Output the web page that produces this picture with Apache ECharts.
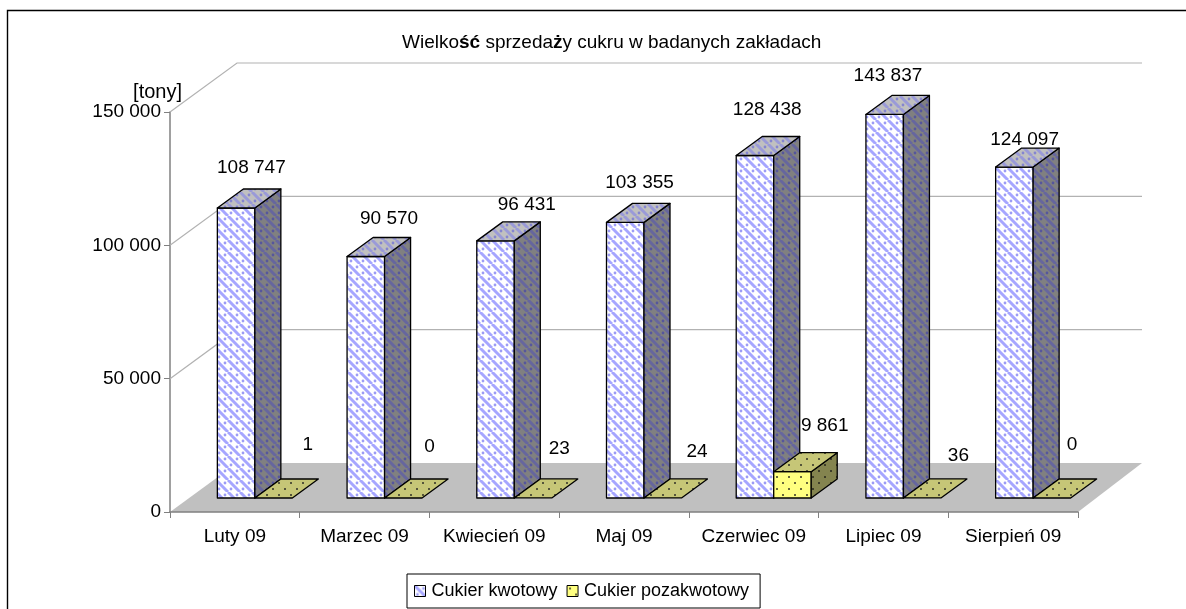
<!DOCTYPE html>
<html>
<head>
<meta charset="utf-8">
<style>html,body{margin:0;background:#fff}#chart{width:1186px;height:609px}</style>
<script src="https://cdn.jsdelivr.net/npm/echarts@6/dist/echarts.min.js"></script>
</head>
<body>
<div id="chart"></div>
<script>
const categories = ['Luty 09','Marzec 09','Kwiecień 09','Maj 09','Czerwiec 09','Lipiec 09','Sierpień 09']
const kwotowy = [108747,90570,96431,103355,128438,143837,124097]
const pozakwotowy = [1,0,23,24,9861,36,0]
const yTicks = [50000,100000,150000]

const FONT = '"Liberation Sans", Arial, sans-serif'
const WALL_DX = 67, WALL_DY = -49      // przesuniecie tylnej sciany
const BAR_DX = 20, BAR_DY = -14        // slupki stoja w srodku podlogi
const DEPTH_DX = 26, DEPTH_DY = -19    // glebokosc slupka
const BAR_W = 37.5

// etykiety w oryginale byly przesuwane recznie
const kwotowyShift = [[1,1],[9,3.5],[17,5],[0,1],[-2,-5],[-11,2],[-4,14]]
const pozakwotowyShift = [[0,-3],[-8,-1],[-8,1],[0,4],[-2,4],[2,8],[-14,-3]]

const fmt = v => String(v).replace(/\B(?=(\d{3})+$)/g, ' ')

// kafelek: tlo + ukosne paski + kropki miedzy paskami
function stripeTile(bg, stripe, dot) {
  const c = document.createElement('canvas')
  c.width = c.height = 12
  const g = c.getContext('2d')
  g.fillStyle = bg
  g.fillRect(0, 0, 12, 12)
  g.strokeStyle = stripe
  g.lineWidth = 3
  for (const o of [-12, 0, 12]) {
    g.beginPath()
    g.moveTo(o, 0)
    g.lineTo(o + 12, 12)
    g.stroke()
  }
  g.fillStyle = dot
  for (const d of [[9, 3], [3, 9]]) {
    g.beginPath()
    g.arc(d[0], d[1], 1.4, 0, Math.PI * 2)
    g.fill()
  }
  return { image: c, repeat: 'repeat' }
}
function dotTile(bg, dot) {
  const c = document.createElement('canvas')
  c.width = c.height = 12
  const g = c.getContext('2d')
  g.fillStyle = bg
  g.fillRect(0, 0, 12, 12)
  g.fillStyle = dot
  g.fillRect(2, 2, 2, 2)
  g.fillRect(8, 8, 2, 2)
  return { image: c, repeat: 'repeat' }
}

const blue = {
  front: stripeTile('#ffffff', '#a6a6ff', '#9c9cf5'),
  top: stripeTile('#c0c0c0', '#9a9ad8', '#8585d0'),
  side: stripeTile('#808080', '#66669e', '#56569c')
}
const yellow = {
  front: dotTile('#ffff80', '#66663a'),
  top: dotTile('#c6c677', '#55553a'),
  side: dotTile('#84844f', '#3d3d28')
}

function renderWalls(params, api) {
  const cs = params.coordSys
  const bottom = cs.y + cs.height, right = cs.x + cs.width
  const children = [{
    type: 'polygon',
    shape: { points: [[cs.x, bottom], [cs.x + WALL_DX, bottom + WALL_DY], [right + WALL_DX - 3, bottom + WALL_DY], [right, bottom]] },
    style: { fill: '#c0c0c0' }
  }]
  for (const v of yTicks) {
    const y = api.coord([0, v])[1]
    children.push({
      type: 'polyline',
      shape: { points: [[cs.x, y], [cs.x + WALL_DX, y + WALL_DY], [right + WALL_DX - 3, y + WALL_DY]] },
      style: { fill: 'none', stroke: '#b2b2b2', lineWidth: 1.2 }
    })
  }
  return { type: 'group', children }
}

function renderBar(faces, seriesIndex, labelDx, labelDy, shifts) {
  return function (params, api) {
    const p = api.coord([api.value(0), 0])
    const t = api.coord([api.value(0), api.value(1)])
    const x = p[0] + BAR_DX - BAR_W + seriesIndex * BAR_W
    const y0 = p[1] + BAR_DY
    const y1 = t[1] + BAR_DY
    const line = { stroke: '#000', lineWidth: 1.3, lineJoin: 'round' }
    const x2 = x + BAR_W
    const shift = shifts[params.dataIndex]
    const children = []
    if (y0 - y1 >= 1) {
      children.push({ type: 'rect', shape: { x, y: y1, width: BAR_W, height: y0 - y1 }, style: { fill: faces.front, ...line } })
      children.push({
        type: 'polygon',
        shape: { points: [[x2, y1], [x2 + DEPTH_DX, y1 + DEPTH_DY], [x2 + DEPTH_DX, y0 + DEPTH_DY], [x2, y0]] },
        style: { fill: faces.side, ...line }
      })
    }
    children.push({
      type: 'polygon',
      shape: { points: [[x, y1], [x + DEPTH_DX, y1 + DEPTH_DY], [x2 + DEPTH_DX, y1 + DEPTH_DY], [x2, y1]] },
      style: { fill: faces.top, ...line }
    })
    children.push({
      type: 'text',
      style: {
        x: x + labelDx + shift[0],
        y: y1 + labelDy + shift[1],
        text: fmt(api.value(1)),
        font: '19px ' + FONT,
        fill: '#000',
        align: 'center',
        verticalAlign: 'middle'
      }
    })
    return { type: 'group', children }
  }
}

const chart = echarts.init(document.getElementById('chart'), null, { renderer: 'canvas' })
chart.setOption({
  animation: false,
  backgroundColor: '#fff',
  textStyle: { fontFamily: FONT, color: '#000' },
  graphic: [{
    type: 'polyline',
    shape: { points: [[7.5, 609], [7.5, 10.5], [1186, 10.5]] },
    style: { fill: 'none', stroke: '#000', lineWidth: 1.4 }
  }],
  title: {
    text: '{n|Wielko}{b|ść}{n| sprzeda}{b|ż}{n|y cukru w badanych zakładach}',
    left: 402,
    top: 33,
    padding: 0,
    textStyle: {
      fontWeight: 'normal',
      rich: {
        n: { fontSize: 19, fontFamily: FONT, fontWeight: 'normal', color: '#000' },
        b: { fontSize: 19, fontFamily: FONT, fontWeight: 'bold', color: '#000' }
      }
    }
  },
  legend: {
    left: 407,
    top: 574,
    padding: [8, 11, 8, 7],
    itemWidth: 11,
    itemHeight: 11,
    itemGap: 9,
    borderColor: '#000',
    borderWidth: 1,
    backgroundColor: '#fff',
    icon: 'rect',
    itemStyle: { borderColor: '#000', borderWidth: 1 },
    textStyle: { fontSize: 18, fontFamily: FONT, color: '#000', padding: [0, 0, 0, 1] },
    data: ['Cukier kwotowy', 'Cukier pozakwotowy']
  },
  grid: { left: 170, top: 112, width: 908, height: 400 },
  xAxis: {
    type: 'category',
    data: categories,
    z: 5,
    axisLine: { show: true, lineStyle: { color: '#808080', width: 1.5 } },
    axisTick: { show: true, alignWithLabel: false, length: 6, lineStyle: { color: '#808080', width: 1 } },
    axisLabel: { interval: 0, fontSize: 19, fontFamily: FONT, color: '#000', margin: 15 }
  },
  yAxis: {
    type: 'value',
    min: 0,
    max: 150000,
    interval: 50000,
    name: '[tony]',
    nameLocation: 'end',
    nameGap: 0,
    nameTextStyle: { fontSize: 20, fontFamily: FONT, color: '#000', align: 'right', padding: [0, -12, 0, 0] },
    splitLine: { show: false },
    axisLine: { show: true, lineStyle: { color: '#808080', width: 1.5 } },
    axisTick: { show: true, length: 6, lineStyle: { color: '#808080' } },
    axisLabel: { fontSize: 19, fontFamily: FONT, color: '#000', margin: 9, formatter: fmt }
  },
  series: [
    {
      type: 'custom',
      name: 'walls',
      silent: true,
      z: 1,
      data: [0],
      encode: { x: 0 },
      renderItem: renderWalls
    },
    {
      type: 'custom',
      name: 'Cukier kwotowy',
      z: 2,
      data: categories.map((c, i) => [i, kwotowy[i]]),
      encode: { x: 0, y: 1 },
      itemStyle: { color: blue.front },
      renderItem: renderBar(blue, 0, 33, -41, kwotowyShift)
    },
    {
      type: 'custom',
      name: 'Cukier pozakwotowy',
      z: 3,
      data: categories.map((c, i) => [i, pozakwotowy[i]]),
      encode: { x: 0, y: 1 },
      itemStyle: { color: yellow.front },
      renderItem: renderBar(yellow, 1, 53, -50, pozakwotowyShift)
    }
  ]
})
</script>
</body>
</html>
